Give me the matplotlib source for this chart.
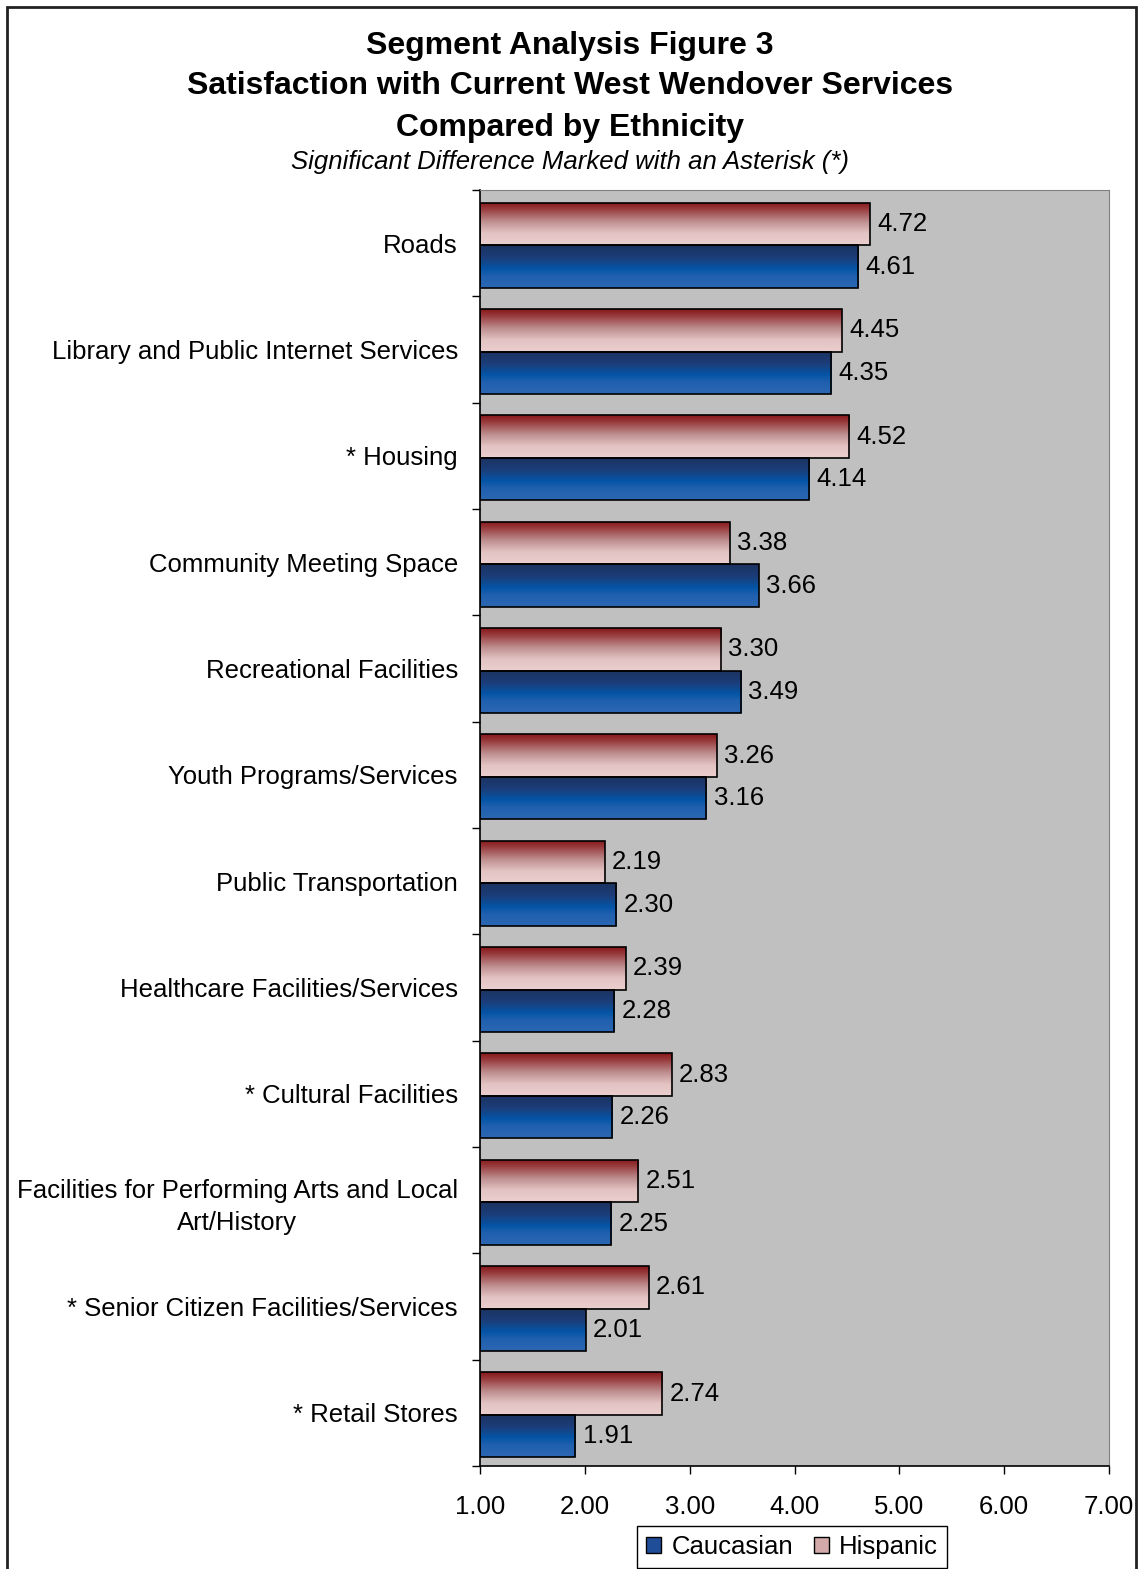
import matplotlib
matplotlib.use('Agg')
import matplotlib.pyplot as plt
import numpy as np
from matplotlib.colors import LinearSegmentedColormap
from matplotlib.patches import Rectangle, Patch

plt.rcParams['font.family'] = ['Liberation Sans', 'DejaVu Sans']

# Services, listed top to bottom
categories = [
    "Roads",
    "Library and Public Internet Services",
    "* Housing",
    "Community Meeting Space",
    "Recreational Facilities",
    "Youth Programs/Services",
    "Public Transportation",
    "Healthcare Facilities/Services",
    "* Cultural Facilities",
    "Facilities for Performing Arts and Local\nArt/History",
    "* Senior Citizen Facilities/Services",
    "* Retail Stores",
]
hispanic = [4.72, 4.45, 4.52, 3.38, 3.30, 3.26, 2.19, 2.39, 2.83, 2.51, 2.61, 2.74]
caucasian = [4.61, 4.35, 4.14, 3.66, 3.49, 3.16, 2.30, 2.28, 2.26, 2.25, 2.01, 1.91]
x_ticks = [1, 2, 3, 4, 5, 6, 7]

W, H = 1140, 1569
fig = plt.figure(figsize=(W / 100, H / 100), dpi=100)
ax = fig.add_axes([480 / W, 1 - 1466 / H, (1109 - 480) / W, (1466 - 190) / H])
ax.set_facecolor('#C0C0C0')

# vertical gradients, top of bar -> bottom of bar
red_grad = LinearSegmentedColormap.from_list('red_grad', [
    (0.0, '#861619'), (0.15, '#97393b'), (0.45, '#be8e8f'),
    (0.72, '#e3c3c3'), (1.0, '#ebcfcf')])
blue_grad = LinearSegmentedColormap.from_list('blue_grad', [
    (0.0, '#1c3260'), (0.3, '#1b3e7a'), (0.55, '#0454a6'),
    (0.72, '#2060ae'), (1.0, '#2c67b3')])

bar_h = 0.4
y = np.arange(len(categories))
shift = 0.02
grad = np.linspace(0, 1, 256).reshape(-1, 1)


def gradient_bars(values, centers, cmap):
    bars = ax.barh(centers, [v - 1 for v in values], left=1, height=bar_h,
                   color='none', edgecolor='black', linewidth=1.2, zorder=3)
    for b in bars:
        x0, y0 = b.get_x(), b.get_y()
        w, h = b.get_width(), b.get_height()
        im = ax.imshow(grad, cmap=cmap, aspect='auto', origin='upper',
                       extent=[x0, x0 + w, y0 + h, y0], zorder=2,
                       interpolation='bilinear')
        im.set_clip_path(b)
    return bars


gradient_bars(hispanic, y - bar_h / 2 + shift, red_grad)
gradient_bars(caucasian, y + bar_h / 2 + shift, blue_grad)

for i in range(len(categories)):
    ax.text(hispanic[i] + 0.07, y[i] - bar_h / 2 + shift, f"{hispanic[i]:.2f}",
            va='center', ha='left', fontsize=18.5, zorder=4)
    ax.text(caucasian[i] + 0.07, y[i] + bar_h / 2 + shift, f"{caucasian[i]:.2f}",
            va='center', ha='left', fontsize=18.5, zorder=4)

ax.set_xlim(1, 7)
ax.set_ylim(len(categories) - 0.5, -0.5)

ax.set_xticks(x_ticks)
ax.set_xticklabels([f"{t:.2f}" for t in x_ticks], fontsize=18.5)
ax.tick_params(axis='x', direction='out', length=6, width=1, pad=15)

ax.set_yticks(y)
ax.set_yticklabels(categories, fontsize=18.5)
for lbl in ax.get_yticklabels():
    lbl.set_multialignment('center')
    lbl.set_linespacing(1.45)
ax.set_yticks(np.arange(len(categories) + 1) - 0.5, minor=True)
ax.tick_params(axis='y', which='major', length=0, pad=16)
ax.tick_params(axis='y', which='minor', direction='out', length=6, width=1)

for side in ('top', 'right'):
    ax.spines[side].set_color('#808080')
for side in ('left', 'bottom'):
    ax.spines[side].set_color('black')
    ax.spines[side].set_linewidth(1.2)

# titles
title_kw = dict(ha='center', va='center', fontsize=23, fontweight='bold')
fig.text(0.5, 1 - 46 / H, "Segment Analysis Figure 3", **title_kw)
fig.text(0.5, 1 - 86 / H, "Satisfaction with Current West Wendover Services", **title_kw)
fig.text(0.5, 1 - 128 / H, "Compared by Ethnicity", **title_kw)
fig.text(0.5, 1 - 162 / H, "Significant Difference Marked with an Asterisk (*)",
         ha='center', va='center', fontsize=18.5, style='italic')

handles = [Patch(facecolor='#1f4d98', edgecolor='black', linewidth=1),
           Patch(facecolor='#d3a9a9', edgecolor='black', linewidth=1)]
fig.legend(handles, ['Caucasian', 'Hispanic'], loc='upper center',
           bbox_to_anchor=(792 / W, 1 - 1526 / H), ncol=2, fontsize=18.5,
           frameon=True, fancybox=False, edgecolor='black', framealpha=1,
           handlelength=0.6, handleheight=0.6, handletextpad=0.4,
           columnspacing=0.8, borderpad=0.35, borderaxespad=0)

# outer frame
fig.patches.append(Rectangle((7 / W, -0.01), (1136 - 7) / W, 1.01 - 7 / H,
                             transform=fig.transFigure, fill=False,
                             edgecolor='#222222', linewidth=2, clip_on=False))

fig.savefig('out.png', dpi=100)
